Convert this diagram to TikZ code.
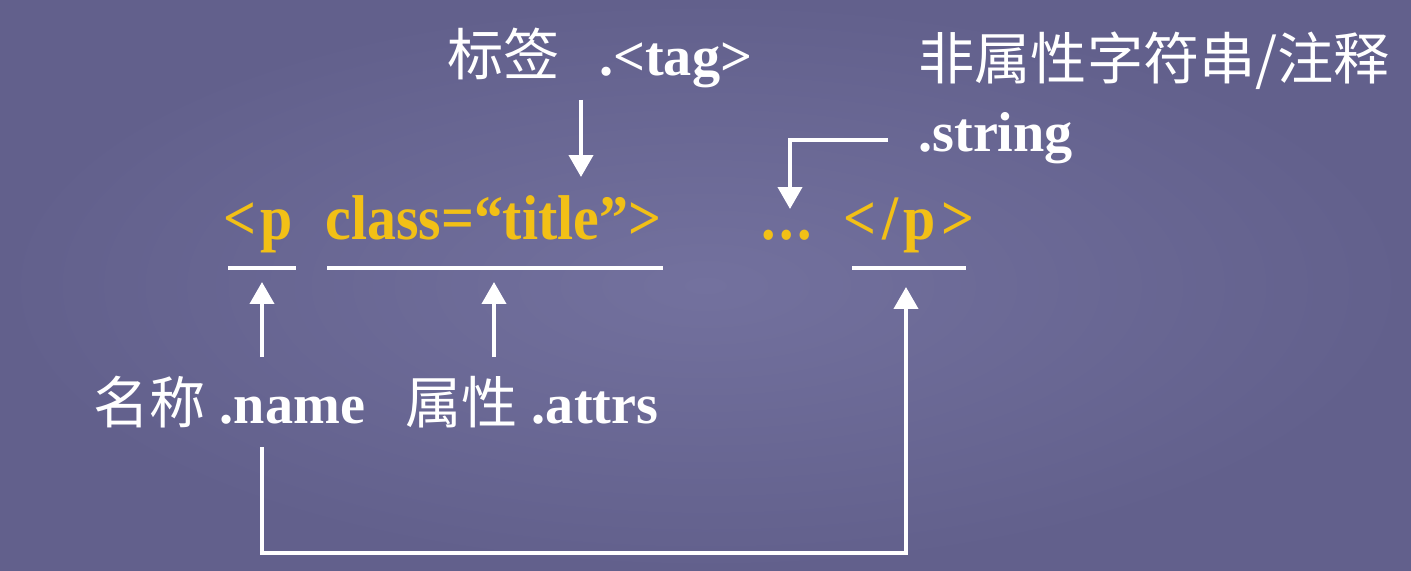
\documentclass[tikz,border=0pt]{standalone}
\usepackage{fontspec}
\setmainfont{Liberation Serif}
\newfontfamily\cjk{Noto Sans CJK SC}
\usetikzlibrary{arrows.meta}
\definecolor{bgA}{RGB}{115,113,158}
\definecolor{bgB}{RGB}{98,96,140}
\definecolor{tagyellow}{RGB}{242,192,22}
\newcommand\zh[1]{{\cjk\mdseries #1}}
\tikzset{
  lbl/.style={text=white, inner sep=0pt, font=\fontsize{32}{38}\selectfont\bfseries},
  zhlbl/.style={text=white, inner sep=0pt, font=\fontsize{32}{38}\selectfont\cjk},
  code/.style={text=tagyellow, inner sep=0pt, xscale=0.915, font=\fontsize{36}{42}\selectfont\bfseries},
  arr/.style={draw=white, line width=0.08cm, line join=miter, -{Triangle[width=0.48cm,length=0.44cm]}},
  uline/.style={draw=white, line width=0.08cm},
}
\begin{document}
\begin{tikzpicture}[x=0.02cm,y=-0.02cm]
\shade[inner color=bgA, outer color=bgB] (0,0) rectangle (1411,571);
\useasboundingbox (0,0) rectangle (1411,571);

% labels
\node[lbl, anchor=base west] (tag) at (447,76) {\zh{标签}\hspace{0.7em}.<tag>};
\node[zhlbl, anchor=base west] (nonattr) at (918,80) {非属性字符串/注释};
\node[lbl, anchor=base west] (string) at (918,152) {.string};
\node[lbl, anchor=base west] (name) at (93,423) {\zh{名称} .name};
\node[lbl, anchor=base west] (attrs) at (405,423) {\zh{属性} .attrs};

% code line
\node[code, anchor=base west] (open) at (223,239) {<\kern.08em p};
\node[code, anchor=base west] (attr) at (325,239) {class=“title”>};
\node[code, anchor=base west] (dots) at (761,239) {.\kern.065em.\kern.065em.};
\node[code, anchor=base west] (close) at (843,239) {<\kern.1em/\kern.1em p\kern.1em>};

% underlines
\draw[uline] (228,268) -- (296,268);
\draw[uline] (327,268) -- (663,268);
\draw[uline] (852,268) -- (966,268);

% arrow end points
\coordinate (tagtail) at (581,100);
\coordinate (tagtip) at (581,177);
\coordinate (strtail) at (888,140);
\coordinate (strtip) at (790,209);
\coordinate (nametail) at (262,357);
\coordinate (nametip) at (262,282);
\coordinate (attrtail) at (494,357);
\coordinate (attrtip) at (494,282);
\coordinate (closetail) at (262,447);
\coordinate (closebot) at (906,553);
\coordinate (closetip) at (906,287);

% arrows
\draw[arr] (tagtail) -- (tagtip);
\draw[arr] (strtail) -- (strtail -| strtip) -- (strtip);
\draw[arr] (nametail) -- (nametip);
\draw[arr] (attrtail) -- (attrtip);
\draw[arr] (closetail) -- (closetail |- closebot) -- (closebot) -- (closetip);
\end{tikzpicture}
\end{document}
